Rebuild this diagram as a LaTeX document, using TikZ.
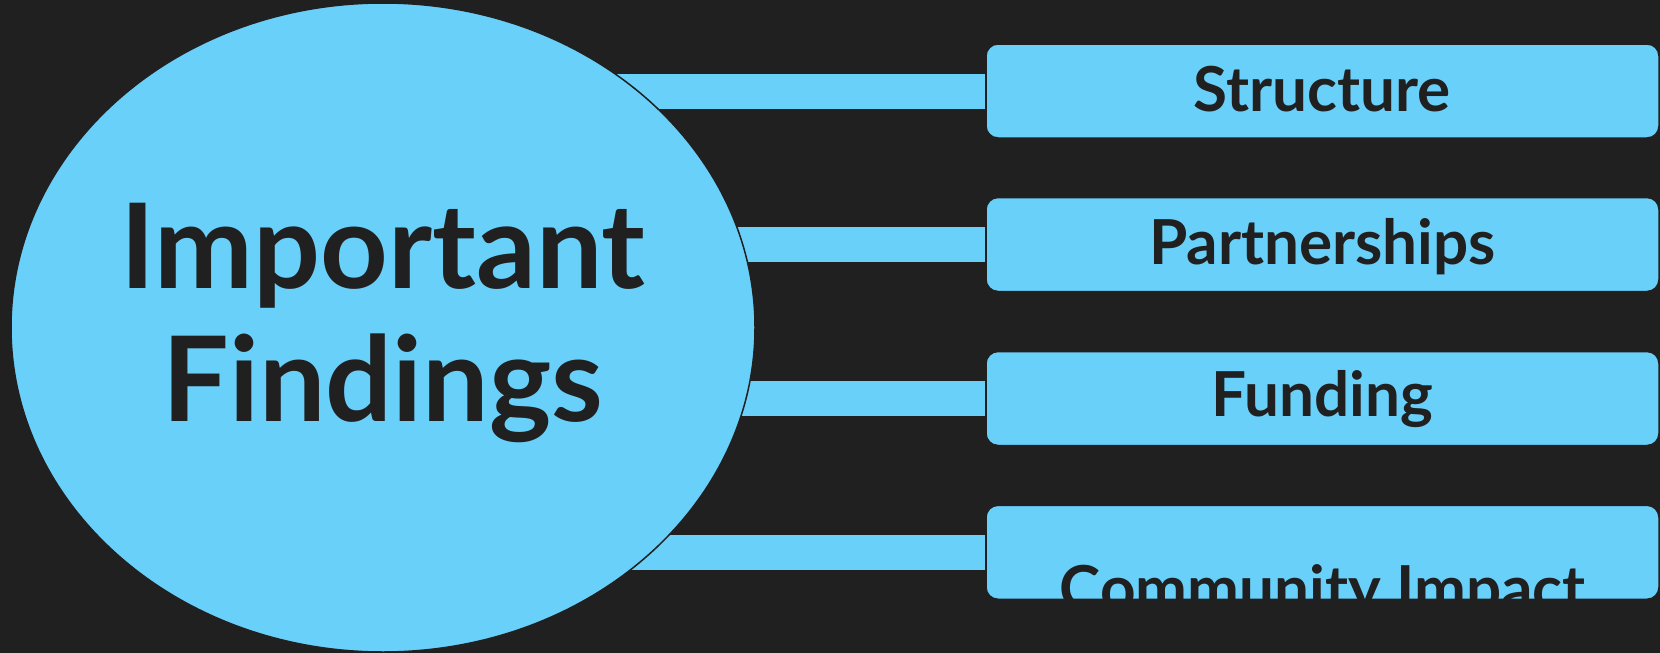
\documentclass[tikz,border=0pt]{standalone}
\usepackage{fontspec}
\setmainfont{Lato}
\usetikzlibrary{shapes.geometric,backgrounds}
\definecolor{bgdark}{HTML}{202020}
\definecolor{skyblue}{HTML}{69D0FA}
\begin{document}
\begin{tikzpicture}[x=1pt,y=-1pt,
  hub/.style={ellipse, fill=skyblue, draw=bgdark, line width=1.5pt,
    minimum width=744pt, minimum height=649pt, inner sep=0pt},
  topicbox/.style={rectangle, rounded corners=12pt, fill=skyblue, draw=bgdark,
    line width=1.5pt, minimum width=673pt, minimum height=94pt, inner sep=0pt},
  bar/.style={draw=skyblue, line width=35pt},
  hubtext/.style={font=\bfseries\fontsize{118}{134}\selectfont, text=bgdark,
    anchor=base, inner sep=0pt},
  boxtext/.style={font=\bfseries\fontsize{62}{72}\selectfont, text=bgdark,
    anchor=base, inner sep=0pt}]
\useasboundingbox (0,0) rectangle (1660,653);

% central topic
\node[hub] (hub) at (383,327.5) {};
\node[hubtext] (hubA) at (383,288) {Important};
\node[hubtext] (hubB) at (383,421) {Findings};

% findings boxes
\node[topicbox] (b1) at (1322.5,91) {};
\node[topicbox] (b2) at (1322.5,244.5) {};
\node[topicbox] (b3) at (1322.5,398.5) {};
\node[topicbox] (b4) at (1322.5,552.3) {};

\node[boxtext] (t1) at (1322.5,111) {Structure};
\node[boxtext] (t2) at (1322.5,264) {Partnerships};
\node[boxtext] (t3) at (1322.5,416) {Funding};
\begin{scope}
  \clip[rounded corners=12pt] (b4.north west) rectangle (b4.south east);
  \node[boxtext] (t4) at (1322.5,610) {Community Impact};
\end{scope}

% background and connector bars behind the shapes
\begin{scope}[on background layer]
  \fill[bgdark] (0,0) rectangle (1660,653);
  \foreach \b in {b1,b2,b3,b4}
    \draw[bar] (\b.west) -- (hub.center |- \b.west);
\end{scope}
\end{tikzpicture}
\end{document}
